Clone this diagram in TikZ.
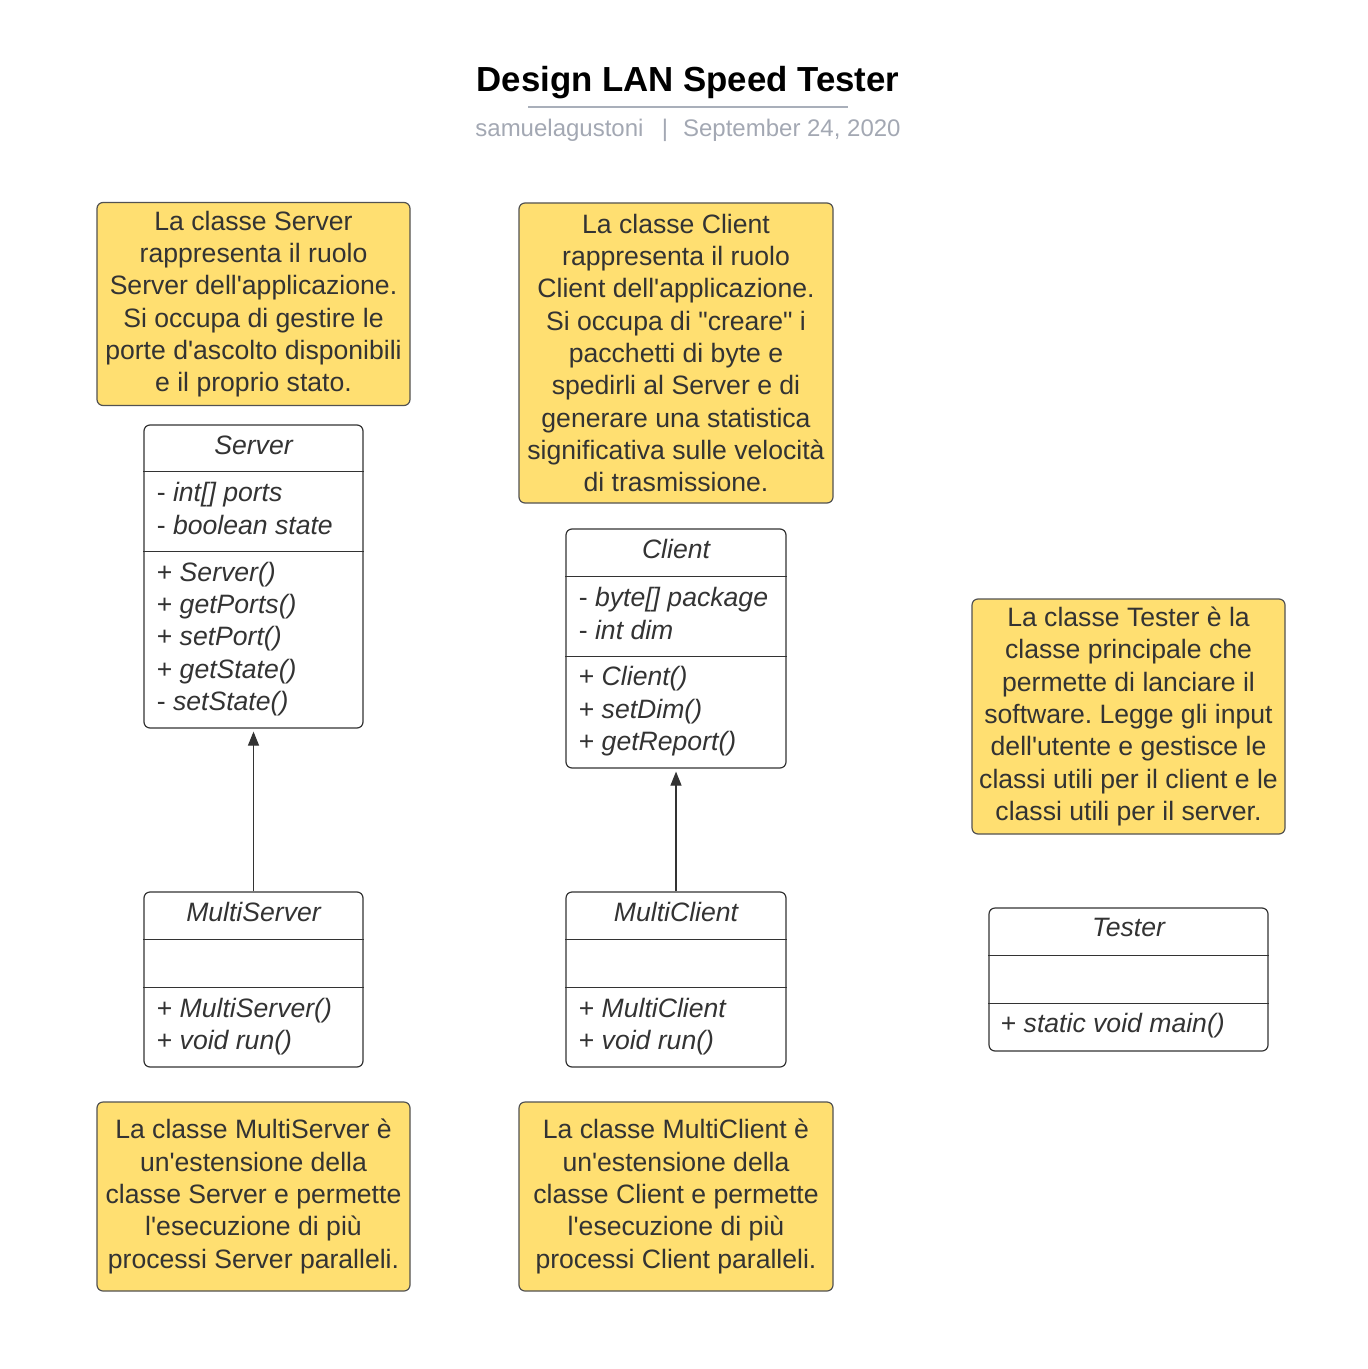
\documentclass[tikz,border=0pt]{standalone}
\usepackage{fontspec}
\setmainfont{Liberation Sans}
\usetikzlibrary{positioning,calc,arrows.meta}
\definecolor{notefill}{HTML}{FFDF71}
\definecolor{textgray}{HTML}{333333}
\definecolor{rulegray}{HTML}{A9AFBA}
\definecolor{subgray}{HTML}{A3A8B3}
\newcommand{\bodyfont}{\fontsize{13.3}{16.15}\selectfont}
\newcommand{\ap}{\textquotesingle}
\frenchspacing

\begin{document}
\begin{tikzpicture}[x=0.5pt, y=-0.5pt,
    note/.style={draw=textgray!85, fill=notefill, rounded corners=3pt, line width=0.6pt, align=center, font=\bodyfont, text=textgray, inner sep=0pt},
    umlclass/.style={draw=textgray, fill=white, rounded corners=3pt, line width=0.6pt, inner sep=0pt},
    cname/.style={font=\bodyfont\itshape, text=textgray, inner sep=0pt},
    member/.style={anchor=west, align=left, font=\bodyfont, text=textgray, inner sep=0pt},
    divider/.style={draw=textgray, line width=0.6pt},
    inherit/.style={draw=textgray, line width=0.6pt, -{Triangle[length=7pt, width=5.5pt]}, shorten >=1.5pt},
    subtitle/.style={font=\fontsize{12}{14}\selectfont, text=subgray, inner sep=0pt}
]
    \useasboundingbox (0,0) rectangle (1367,1369);

    % Header
    \node [font=\fontsize{17.4}{20}\selectfont\bfseries, inner sep=0pt] (title) at (688,83) {Design LAN Speed Tester};
    \draw [rulegray, line width=1pt] (528,107) -- (848,107);
    \node [subtitle, anchor=west] (author) at (475,130) {samuelagustoni};
    \node [subtitle] (sep) at (665,130) {|};
    \node [subtitle, anchor=east] (date) at (901,130) {September 24, 2020};

    % Notes
    \node [note, minimum width=156.5pt, minimum height=101.5pt] (nServer) at (253.5,304)
        {La classe Server\\rappresenta il ruolo\\Server dell\ap applicazione.\\Si occupa di gestire le\\porte d\ap ascolto disponibili\\e il proprio stato.};
    \node [note, minimum width=157pt, minimum height=150pt] (nClient) at (676,353)
        {La classe Client\\rappresenta il ruolo\\Client dell\ap applicazione.\\Si occupa di \textquotedbl creare\textquotedbl{} i\\pacchetti di byte e\\spedirli al Server e di\\generare una statistica\\significativa sulle velocità\\di trasmissione.};
    \node [note, minimum width=156.5pt, minimum height=117.5pt] (nTester) at (1128.5,716.5)
        {La classe Tester è la\\classe principale che\\permette di lanciare il\\software. Legge gli input\\dell\ap utente e gestisce le\\classi utili per il client e le\\classi utili per il server.};
    \node [note, minimum width=156.5pt, minimum height=94.5pt] (nMServer) at (253.5,1196.5)
        {La classe MultiServer è\\un\ap estensione della\\classe Server e permette\\l\ap esecuzione di più\\processi Server paralleli.};
    \node [note, minimum width=157pt, minimum height=94.5pt] (nMClient) at (676,1196.5)
        {La classe MultiClient è\\un\ap estensione della\\classe Client e permette\\l\ap esecuzione di più\\processi Client paralleli.};

    % Classes
    \node [umlclass, minimum width=109.5pt, minimum height=151.5pt] (cServer) at (253.5,576.5) {};
    \node [umlclass, minimum width=110pt, minimum height=119.5pt] (cClient) at (676,648.5) {};
    \node [umlclass, minimum width=109.5pt, minimum height=87.5pt] (cMServer) at (253.5,979.5) {};
    \node [umlclass, minimum width=110pt, minimum height=87.5pt] (cMClient) at (676,979.5) {};
    \node [umlclass, minimum width=139.5pt, minimum height=71.5pt] (cTester) at (1128.5,979.5) {};

    \foreach \c/\d in {cServer/47, cServer/127, cClient/48, cClient/128, cMServer/48, cMServer/96, cMClient/48, cMClient/96, cTester/48, cTester/96}
        \draw [divider] ($(\c.north west)+(0,\d)$) -- ($(\c.north east)+(0,\d)$);

    \foreach \c/\label in {cServer/Server, cClient/Client, cMServer/MultiServer, cMClient/MultiClient, cTester/Tester}
        \node [cname] (t\c) at ($(\c.north)+(0,20.5)$) {\label};

    % Members
    \node [member] (aServer) at ($(cServer.north west)+(13,84)$) {- \textit{int[] ports}\\- \textit{boolean state}};
    \node [member] (mServer) at ($(cServer.north west)+(13,214.5)$) {+ \textit{Server()}\\+ \textit{getPorts()}\\+ \textit{setPort()}\\+ \textit{getState()}\\- \textit{setState()}};
    \node [member] (aClient) at ($(cClient.north west)+(13,85)$) {- \textit{byte[] package}\\- \textit{int dim}};
    \node [member] (mClient) at ($(cClient.north west)+(13,183)$) {+ \textit{Client()}\\+ \textit{setDim()}\\+ \textit{getReport()}};
    \node [member] (mMServer) at ($(cMServer.north west)+(13,135)$) {+ \textit{MultiServer()}\\+ \textit{void run()}};
    \node [member] (mMClient) at ($(cMClient.north west)+(13,135)$) {+ \textit{MultiClient}\\+ \textit{void run()}};
    \node [member] (mTester) at ($(cTester.north west)+(12,118)$) {+ \textit{static void main()}};

    % Inheritance
    \draw [inherit] (cMServer.north) -- (cServer.south);
    \draw [inherit] (cMClient.north) -- (cClient.south);
\end{tikzpicture}
\end{document}
